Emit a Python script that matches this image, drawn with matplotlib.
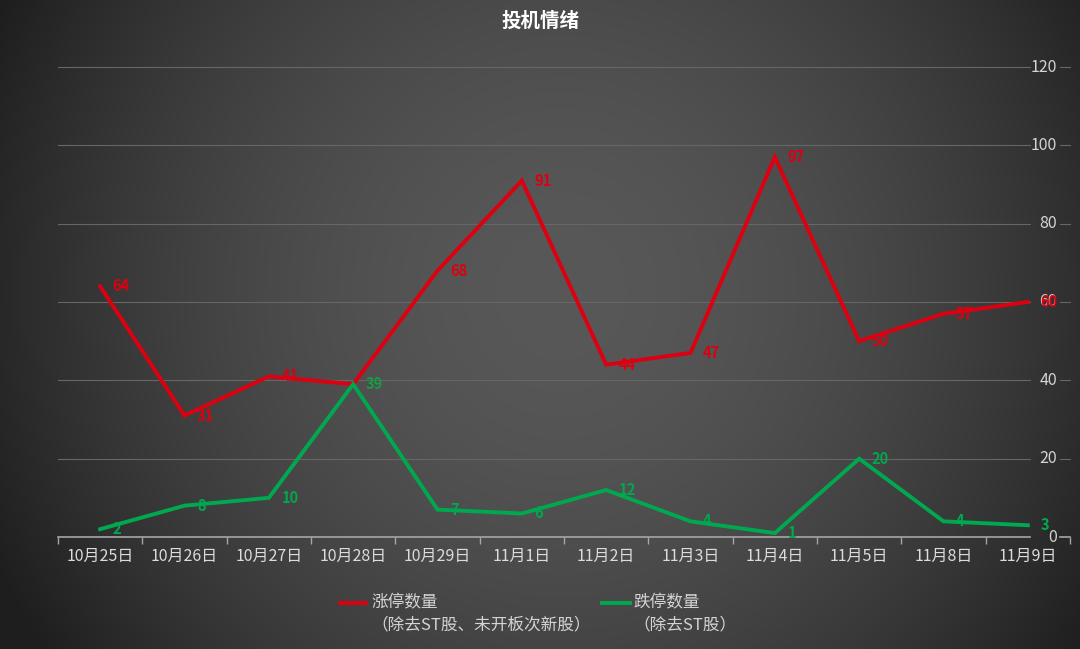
import numpy as np
import matplotlib
matplotlib.use("Agg")
import matplotlib.pyplot as plt
from matplotlib.lines import Line2D

plt.rcParams['font.family'] = ['Noto Sans CJK SC', 'DejaVu Sans']

categories = ["10月25日", "10月26日", "10月27日", "10月28日", "10月29日", "11月1日",
              "11月2日", "11月3日", "11月4日", "11月5日", "11月8日", "11月9日"]
limit_up = [64, 31, 41, 39, 68, 91, 44, 47, 97, 50, 57, 60]
limit_down = [2, 8, 10, 39, 7, 6, 12, 4, 1, 20, 4, 3]
y_ticks = [0, 20, 40, 60, 80, 100, 120]
title = "投机情绪"
label_up = ("涨停数量", "（除去ST股、未开板次新股）")
label_down = ("跌停数量", "（除去ST股）")

RED = "#dd0010"
GREEN = "#00a84f"
W, H = 1080, 649

fig = plt.figure(figsize=(W / 100, H / 100), dpi=100)

# background gradient
bg = fig.add_axes([0, 0, 1, 1], zorder=-10)
yy, xx = np.mgrid[0:1:300j, 0:1:500j]
d = np.sqrt(((xx - 0.52) / 0.58) ** 2 + ((yy - 0.45) / 1.0) ** 2)
v = np.clip(0x58 - (0x58 - 0x1e) * d ** 1.8, 0x1e, 0x58) / 255.0
bg.imshow(np.dstack([v, v, v]), aspect='auto', extent=[0, 1, 0, 1], origin='upper')
bg.set_axis_off()

left, right = 58 / W, 1070 / W
bottom, top = (H - 537) / H, (H - 67) / H
ax = fig.add_axes([left, bottom, right - left, top - bottom])
ax.set_facecolor('none')
for s in ax.spines.values():
    s.set_visible(False)

x = np.arange(len(categories))
ax.set_xlim(-0.5, len(categories) - 0.5)
ax.set_ylim(0, 120)

# gridlines with gap behind right-side labels
gap_l = (1030 - 58) / (1070 - 58)
gap_r = (1060 - 58) / (1070 - 58)
tr = ax.get_yaxis_transform()
for t in y_ticks:
    col = "#a6a6a6" if t == 0 else "#666666"
    lw = 1.2 if t == 0 else 0.8
    ax.plot([0, gap_l], [t, t], transform=tr, color=col, lw=lw, zorder=1, clip_on=False)
    ax.plot([gap_r, 1], [t, t], transform=tr, color=col, lw=lw, zorder=1, clip_on=False)
    ax.text(0.987, t, str(t), transform=tr, ha='right', va='center',
            color="#d4d4d4", fontsize=11.5)

ax.set_yticks([])
ax.set_xticks(np.arange(-0.5, len(categories) + 0.5, 1))
ax.set_xticklabels([])
ax.tick_params(axis='x', which='major', length=5, width=1, color="#a6a6a6", direction='out')
ax.set_xticks(x, minor=True)
ax.set_xticklabels(categories, minor=True)
ax.tick_params(axis='x', which='minor', length=0, pad=8, labelsize=11.5, labelcolor="#dcdcdc")

ax.plot(x, limit_up, color=RED, lw=2.8, zorder=3, solid_joinstyle='miter')
ax.plot(x, limit_down, color=GREEN, lw=2.8, zorder=3, solid_joinstyle='miter')

for xi, v_ in zip(x, limit_up):
    ax.annotate(str(v_), (xi, v_), xytext=(9, 0), textcoords='offset points',
                ha='left', va='center', color=RED, fontsize=10.5, fontweight='bold', zorder=4)
for xi, v_ in zip(x, limit_down):
    ax.annotate(str(v_), (xi, v_), xytext=(9, 0), textcoords='offset points',
                ha='left', va='center', color=GREEN, fontsize=10.5, fontweight='bold', zorder=4)

fig.text(540 / W, 1 - 21 / H, title, ha='center', va='center', color='white',
         fontsize=14, fontweight='bold')

# legend
def legend_item(x0, x1, tx, tx2, color, labels):
    y1 = 1 - 603 / H
    y2 = 1 - 625 / H
    fig.add_artist(Line2D([x0 / W, x1 / W], [y1, y1], color=color, lw=2.8))
    fig.text(tx / W, y1, labels[0], ha='left', va='center', color="#d4d4d4", fontsize=12)
    fig.text(tx2 / W, y2, labels[1], ha='left', va='center', color="#d4d4d4", fontsize=12)

legend_item(340, 366, 371, 371, RED, label_up)
legend_item(602, 630, 633, 633, GREEN, label_down)

fig.savefig("out.png", dpi=100)
